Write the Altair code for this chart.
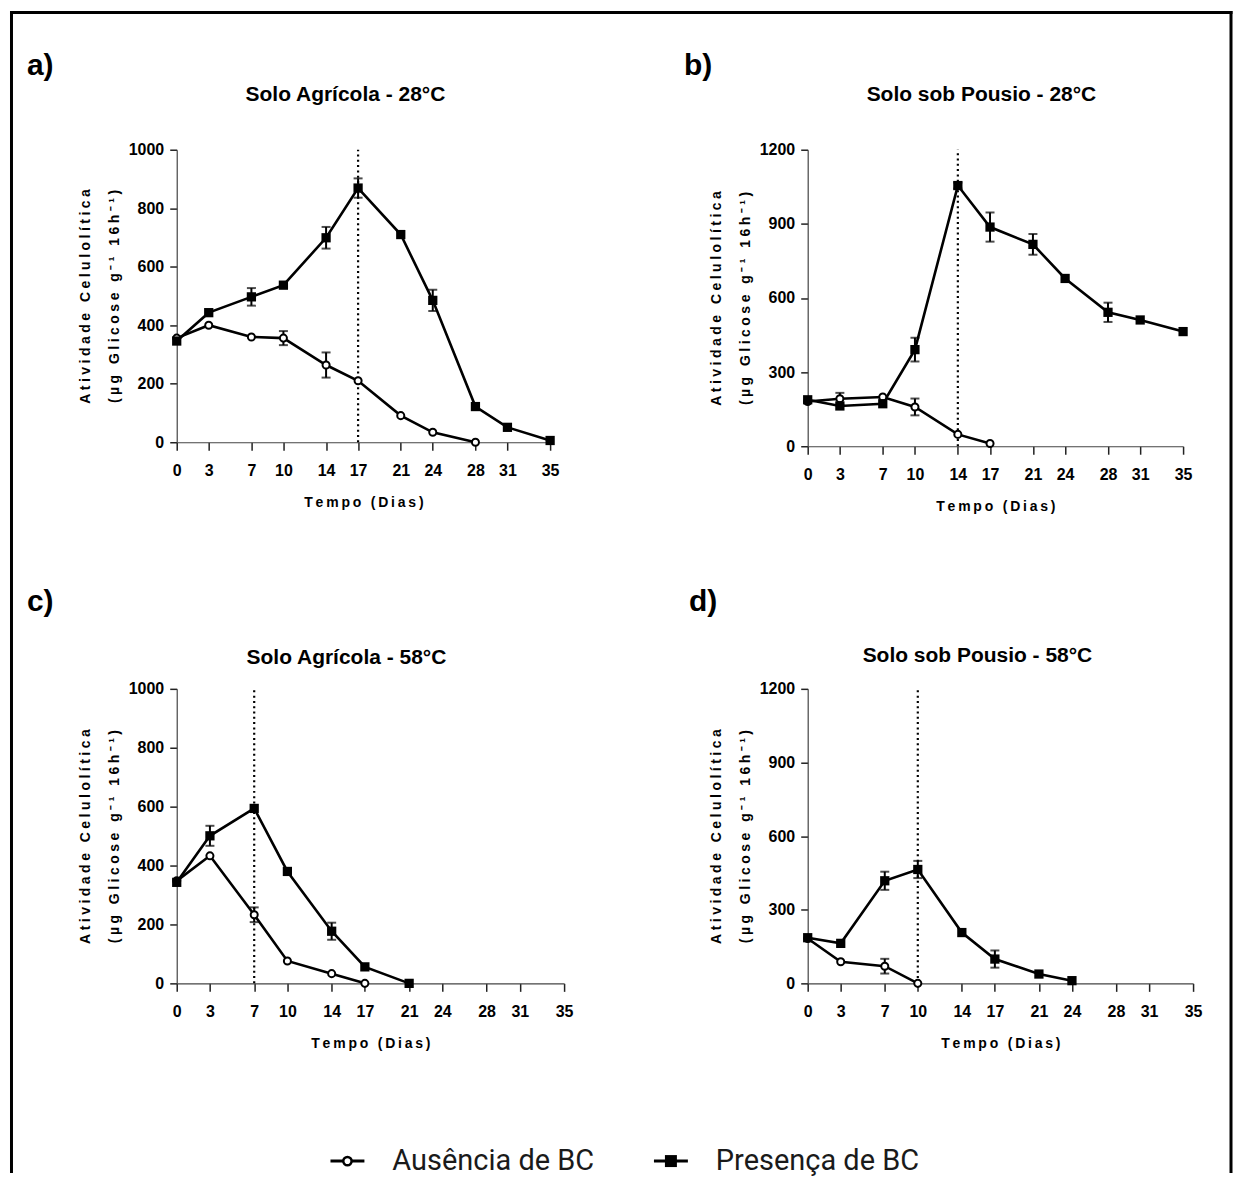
import altair as alt
import pandas as pd

FONT = "Liberation Sans"
SERIES = ["Ausência de BC", "Presença de BC"]
X_TICKS = [0, 3, 7, 10, 14, 17, 21, 24, 28, 31, 35]

# ---- Panel a: Solo Agrícola - 28°C
a_aus_days = [0, 3, 7, 10, 14, 17, 21, 24, 28]
a_aus_vals = [356, 400, 360, 356, 264, 210, 91, 34, 0]
a_aus_err = [0, 0, 0, 24, 43, 0, 0, 0, 0]
a_pre_days = [0, 3, 7, 10, 14, 17, 21, 24, 28, 31, 35]
a_pre_vals = [346, 443, 497, 537, 699, 869, 710, 485, 122, 51, 6]
a_pre_err = [0, 0, 30, 0, 37, 33, 0, 36, 0, 0, 0]

# ---- Panel b: Solo sob Pousio - 28°C
b_aus_days = [0, 3, 7, 10, 14, 17]
b_aus_vals = [181, 192, 199, 159, 48, 11]
b_aus_err = [0, 24, 0, 34, 0, 0]
b_pre_days = [0, 3, 7, 10, 14, 17, 21, 24, 28, 31, 35]
b_pre_vals = [188, 163, 172, 391, 1055, 887, 817, 679, 542, 511, 464]
b_pre_err = [0, 0, 0, 48, 12, 59, 42, 0, 39, 0, 0]

# ---- Panel c: Solo Agrícola - 58°C
c_aus_days = [0, 3, 7, 10, 14, 17]
c_aus_vals = [348, 433, 233, 76, 33, 0]
c_aus_err = [0, 0, 25, 0, 0, 0]
c_pre_days = [0, 3, 7, 10, 14, 17, 21]
c_pre_vals = [343, 501, 594, 380, 177, 56, 0]
c_pre_err = [0, 34, 0, 0, 29, 0, 0]

# ---- Panel d: Solo sob Pousio - 58°C
d_aus_days = [0, 3, 7, 10]
d_aus_vals = [183, 88, 70, 0]
d_aus_err = [0, 0, 30, 0]
d_pre_days = [0, 3, 7, 10, 14, 17, 21, 24]
d_pre_vals = [186, 163, 418, 464, 207, 99, 38, 11]
d_pre_err = [0, 0, 37, 35, 0, 35, 0, 0]

LETTERS = ["a)", "b)", "c)", "d)"]
TITLES = ["Solo Agrícola - 28°C", "Solo sob Pousio - 28°C",
          "Solo Agrícola - 58°C", "Solo sob Pousio - 58°C"]
PEAKS = [17, 14, 7, 10]
YMAX = [1000, 1200, 1000, 1200]
YSTEP = [200, 300, 200, 300]


def spaced(s, sep):
    return sep.join(s)


X_TITLE = spaced("Tempo (Dias)", "\u2009")
Y_TITLE = [spaced("Atividade Celulolítica", "\u2005"),
           spaced("(µg Glicose g⁻¹ 16h⁻¹)", "\u2005")]


def make_panel(i, aus, pre, w, h, letter_pos, title_pos, extra=()):
    rows = []
    for s, (d, v, e) in zip(SERIES, [aus, pre]):
        for di, vi, ei in zip(d, v, e):
            rows.append({"series": s, "day": di, "val": vi, "err": ei,
                         "lo": vi - ei, "hi": vi + ei})
    df = pd.DataFrame(rows)
    ymax = YMAX[i]
    xs = alt.Scale(domain=[0, 35], nice=False, zero=False)
    ys = alt.Scale(domain=[0, ymax], nice=False, zero=True)
    xax = alt.Axis(values=X_TICKS, title=X_TITLE, format="d")
    yax = alt.Axis(values=list(range(0, ymax + 1, YSTEP[i])), title=Y_TITLE, format="d")

    def X(f):
        return alt.X(f"{f}:Q", scale=xs, axis=xax)

    def Y(f):
        return alt.Y(f"{f}:Q", scale=ys, axis=yax)

    base = alt.Chart(df)
    peak_df = pd.DataFrame({"day": [PEAKS[i]], "val": [0], "top": [ymax]})
    vline = alt.Chart(peak_df).mark_rule(
        color="black", strokeWidth=2.2, strokeDash=[2, 3.3]
    ).encode(x=X("day"), y=Y("val"), y2="top:Q")
    lines = base.mark_line(color="black", strokeWidth=2.6).encode(
        x=X("day"), y=Y("val"), detail="series:N")
    errs = base.transform_filter("datum.err > 0").mark_errorbar(
        ticks=True, size=9, thickness=2, color="black"
    ).encode(x=X("day"), y=Y("lo"), y2="hi:Q")
    circ = base.transform_filter(f"datum.series == '{SERIES[0]}'").mark_point(
        shape="circle", size=50, filled=True, fill="white", stroke="black",
        strokeWidth=2, opacity=1
    ).encode(x=X("day"), y=Y("val"))
    sq = base.transform_filter(f"datum.series == '{SERIES[1]}'").mark_point(
        shape="square", size=86, filled=True, color="black", opacity=1
    ).encode(x=X("day"), y=Y("val"))
    letter = alt.Chart(pd.DataFrame({"t": [LETTERS[i]]})).mark_text(
        align="left", baseline="alphabetic", font=FONT, fontSize=30,
        fontWeight="bold", color="black"
    ).encode(text="t:N", x=alt.value(letter_pos[0]), y=alt.value(letter_pos[1]))
    title = alt.Chart(pd.DataFrame({"t": [TITLES[i]]})).mark_text(
        align="center", baseline="alphabetic", font=FONT, fontSize=21,
        fontWeight="bold", color="black"
    ).encode(text="t:N", x=alt.value(title_pos[0]), y=alt.value(title_pos[1]))
    layers = [vline, lines, errs, circ, sq, letter, title] + list(extra)
    return alt.layer(*layers).properties(width=w, height=h)


# ---- frame around the whole figure (panel a coordinates)
bdf = pd.DataFrame({"k": [0]})
BORDER = []
for (x1, y1, x2, y2) in [(-165.5, -139, -165.5, 1025),
                         (-167, -137.5, 1057.5, -137.5),
                         (1056, -139, 1056, 1025)]:
    BORDER.append(alt.Chart(bdf).mark_rule(color="black", strokeWidth=3).encode(
        x=alt.value(x1), y=alt.value(y1), x2=alt.value(x2), y2=alt.value(y2)))

# ---- legend (panel c coordinates)
LEG_Y = 473
LEGEND = []
for name, sx in zip(SERIES, [171, 495]):
    ldf = pd.DataFrame({"series": [name]})
    lb = alt.Chart(ldf)
    LEGEND.append(lb.mark_rule(color="black", strokeWidth=3).encode(
        x=alt.value(sx - 17), x2=alt.value(sx + 17), y=alt.value(LEG_Y)))
    if name == SERIES[0]:
        LEGEND.append(lb.mark_point(shape="circle", size=70, filled=True, fill="white",
                                    stroke="black", strokeWidth=2.5, opacity=1).encode(
            x=alt.value(sx), y=alt.value(LEG_Y)))
    else:
        LEGEND.append(lb.mark_point(shape="square", size=144, filled=True, color="black",
                                    opacity=1).encode(x=alt.value(sx), y=alt.value(LEG_Y)))
    LEGEND.append(lb.mark_text(align="left", baseline="middle", fontSize=29, font="Roboto",
                               color="#1a1a1a").encode(
        text="series:N", x=alt.value(sx + 45), y=alt.value(LEG_Y)))

pa = make_panel(0, (a_aus_days, a_aus_vals, a_aus_err), (a_pre_days, a_pre_vals, a_pre_err),
                374, 293, (-150, -75), (169, -49), extra=BORDER)
pb = make_panel(1, (b_aus_days, b_aus_vals, b_aus_err), (b_pre_days, b_pre_vals, b_pre_err),
                376, 297, (-124, -75), (174, -49))
pc = make_panel(2, (c_aus_days, c_aus_vals, c_aus_err), (c_pre_days, c_pre_vals, c_pre_err),
                388, 295, (-150, -78), (170, -25), extra=LEGEND)
pd_ = make_panel(3, (d_aus_days, d_aus_vals, d_aus_err), (d_pre_days, d_pre_vals, d_pre_err),
                 386, 295, (-119, -78), (170, -27))

chart = alt.concat(pa, pb, pc, pd_, columns=2, bounds="flush",
                   spacing={"row": 243, "column": 244}).properties(padding=0)

chart = chart.configure_view(strokeWidth=0).configure_axis(
    labelFont=FONT, labelFontSize=16, labelFontWeight="bold", labelColor="black",
    titleFont=FONT, titleFontSize=14, titleFontWeight="bold", titleColor="black",
    domainColor="#444", domainWidth=1.2, tickColor="#222", tickWidth=1.5,
    grid=False, labelFlush=False, labelOverlap=False,
).configure_axisX(
    tickSize=8, labelPadding=12, titlePadding=17
).configure_axisY(
    tickSize=7, labelPadding=6, titlePadding=7, titleLineHeight=29
)

chart.save("out.html", embed_options={"renderer": "svg", "actions": False})
